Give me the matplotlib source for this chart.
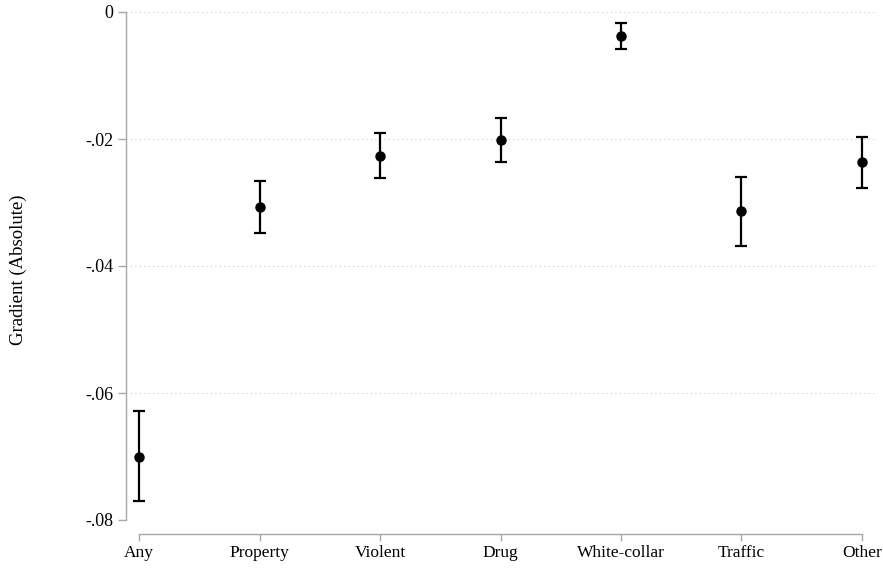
import matplotlib
matplotlib.use("Agg")
import matplotlib.pyplot as plt
import numpy as np

plt.rcParams['font.family'] = ['Liberation Serif', 'DejaVu Serif']

categories = ["Any", "Property", "Violent", "Drug", "White-collar", "Traffic", "Other"]
estimate = [-0.0700, -0.0307, -0.0226, -0.0202, -0.0038, -0.0313, -0.0237]
ci_upper = [-0.0629, -0.0266, -0.0190, -0.0167, -0.0018, -0.0260, -0.0197]
ci_lower = [-0.0770, -0.0348, -0.0262, -0.0237, -0.0059, -0.0368, -0.0277]
yticks = [0, -0.02, -0.04, -0.06, -0.08]
ytick_labels = ["0", "-.02", "-.04", "-.06", "-.08"]
ylabel = "Gradient (Absolute)"

fig = plt.figure(figsize=(8.83, 5.68), dpi=100)
ax = fig.add_axes([126/883, (568-520)/568, (875-126)/883, (520-12)/568])

x = np.arange(len(categories))
est = np.array(estimate)
lo = np.array(ci_lower)
hi = np.array(ci_upper)
ax.errorbar(x, est, yerr=[est - lo, hi - est], fmt='o', color='black',
            ecolor='black', elinewidth=1.6, capsize=4.6, capthick=1.6,
            markersize=6.5, zorder=3)

ax.set_xlim(-0.108, 6.108)
ax.set_ylim(-0.08, 0)
ax.set_yticks(yticks)
ax.set_yticklabels(ytick_labels)
ax.set_xticks(x)
ax.set_xticklabels(categories)

for yv in yticks:
    ax.axhline(yv, color='#c8c8c8', linestyle=(0, (1, 3)), linewidth=0.8, zorder=1)

gray = '#a8a8a8'
for s in ['top', 'right']:
    ax.spines[s].set_visible(False)
ax.spines['left'].set_color(gray)
ax.spines['bottom'].set_color(gray)
ax.spines['left'].set_linewidth(1.0)
ax.spines['bottom'].set_linewidth(1.0)
ax.spines['bottom'].set_position(('outward', 10))
ax.spines['bottom'].set_bounds(0, 6)
ax.spines['left'].set_bounds(-0.08, 0)

ax.tick_params(axis='both', colors=gray, labelcolor='black', width=1.0)
ax.tick_params(axis='y', length=6, pad=3, labelsize=13)
ax.tick_params(axis='x', length=5, pad=3, labelsize=12.5)

fig.text(18/883, 1 - 270/568, ylabel, rotation=90, ha='center', va='center',
         fontsize=13.5)

fig.savefig("out.png", dpi=100)
